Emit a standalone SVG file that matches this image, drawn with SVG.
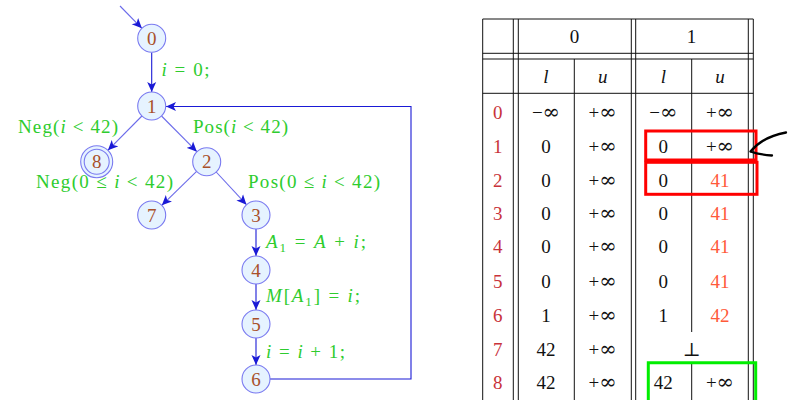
<svg xmlns="http://www.w3.org/2000/svg" width="789" height="400" viewBox="0 0 789 400">
<defs>
  <marker id="arr" markerWidth="12" markerHeight="10" refX="10" refY="5" orient="auto" markerUnits="userSpaceOnUse">
    <path d="M0,0.5 L10,5 L0,9.5 L2.5,5 Z" fill="#1a1ad6"/>
  </marker>
</defs>
<style>
  .node circle { fill: #e6f3ff; stroke: #7a7af0; stroke-width: 1.1; }
  .node text { font-family: "Liberation Serif", "DejaVu Serif", serif; font-size: 19px; fill: #a8502a; text-anchor: middle; }
  .edge { stroke: #1a1ad6; stroke-width: 1.1; fill: none; }
  .thin { stroke: #6b6bea; }
  .lbl { font-family: "Liberation Serif", "DejaVu Serif", serif; font-size: 19px; fill: #2ecc2e; }
  .it { font-style: italic; }
  .grid line { stroke: #111; stroke-width: 1; }
  .cell { font-family: "Liberation Serif", "DejaVu Serif", serif; font-size: 19px; fill: #111; text-anchor: middle; }
  .inf { font-family: "DejaVu Serif", serif; font-size: 21px; }
  .rowh { fill: #c8323a; }
  .hot { fill: #ff5a3a; }
  .mark { fill: none; stroke-width: 3; }
</style>

<!-- control flow graph: connectors -->
<g id="edges">
  <line class="edge thin" x1="120" y1="6" x2="141.9" y2="28.3" marker-end="url(#arr)"/>
  <line class="edge" x1="151.7" y1="52.5" x2="151.7" y2="92" marker-end="url(#arr)"/>
  <line class="edge thin" x1="141.9" y1="116" x2="107.9" y2="150.3" marker-end="url(#arr)"/>
  <line class="edge thin" x1="161.5" y1="116" x2="196.9" y2="151.7" marker-end="url(#arr)"/>
  <line class="edge thin" x1="196.6" y1="171.4" x2="161.8" y2="205.3" marker-end="url(#arr)"/>
  <line class="edge thin" x1="216.2" y1="172" x2="246.5" y2="204.7" marker-end="url(#arr)"/>
  <line class="edge" x1="256" y1="229" x2="256" y2="256" marker-end="url(#arr)"/>
  <line class="edge" x1="256" y1="284" x2="256" y2="310" marker-end="url(#arr)"/>
  <line class="edge" x1="256" y1="338" x2="256" y2="365" marker-end="url(#arr)"/>
  <path class="edge" d="M270,379 H411 V106.5 H166" marker-end="url(#arr)"/>
</g>

<!-- edge labels -->
<g id="labels">
  <text class="lbl" x="161.5" y="76" textLength="48" lengthAdjust="spacing"><tspan class="it">i</tspan> = 0;</text>
  <text class="lbl" x="18" y="133" textLength="100" lengthAdjust="spacing">Neg(<tspan class="it">i</tspan> &lt; 42)</text>
  <text class="lbl" x="193" y="133" textLength="95" lengthAdjust="spacing">Pos(<tspan class="it">i</tspan> &lt; 42)</text>
  <text class="lbl" x="36" y="188" textLength="137" lengthAdjust="spacing">Neg(0 ≤ <tspan class="it">i</tspan> &lt; 42)</text>
  <text class="lbl" x="248" y="188" textLength="132" lengthAdjust="spacing">Pos(0 ≤ <tspan class="it">i</tspan> &lt; 42)</text>
  <text class="lbl" x="266" y="248" textLength="100" lengthAdjust="spacing"><tspan class="it">A</tspan><tspan font-size="13" dy="4">1</tspan><tspan dy="-4"> = </tspan><tspan class="it">A</tspan> + <tspan class="it">i</tspan>;</text>
  <text class="lbl" x="266" y="302" textLength="94" lengthAdjust="spacing"><tspan class="it">M</tspan>[<tspan class="it">A</tspan><tspan font-size="13" dy="4">1</tspan><tspan dy="-4">] = </tspan><tspan class="it">i</tspan>;</text>
  <text class="lbl" x="266" y="358" textLength="79" lengthAdjust="spacing"><tspan class="it">i</tspan> = <tspan class="it">i</tspan> + 1;</text>
</g>

<!-- nodes -->
<g id="n0" class="node"><circle cx="151.7" cy="38.3" r="14"/><text x="151.7" y="45">0</text></g>
<g id="n1" class="node"><circle cx="151.7" cy="106" r="14"/><text x="151.7" y="112.7">1</text></g>
<g id="n8" class="node"><circle cx="96.7" cy="161.7" r="16"/><circle cx="96.7" cy="161.7" r="12.5"/><text x="96.7" y="168.4">8</text></g>
<g id="n2" class="node"><circle cx="206.7" cy="161.7" r="14"/><text x="206.7" y="168.4">2</text></g>
<g id="n7" class="node"><circle cx="151.7" cy="215" r="14"/><text x="151.7" y="221.7">7</text></g>
<g id="n3" class="node"><circle cx="256" cy="215" r="14"/><text x="256" y="221.7">3</text></g>
<g id="n4" class="node"><circle cx="256" cy="270" r="14"/><text x="256" y="276.7">4</text></g>
<g id="n5" class="node"><circle cx="256" cy="324" r="14"/><text x="256" y="330.7">5</text></g>
<g id="n6" class="node"><circle cx="256" cy="379" r="14"/><text x="256" y="385.7">6</text></g>

<!-- interval table: grid -->
<g id="table" class="grid">
  <line x1="482.7" y1="19" x2="753.3" y2="19"/>
  <line x1="482.7" y1="53.3" x2="753.3" y2="53.3"/>
  <line x1="482.7" y1="59" x2="753.3" y2="59"/>
  <line x1="482.7" y1="93.3" x2="753.3" y2="93.3"/>
  <line x1="482.7" y1="19" x2="482.7" y2="400"/>
  <line x1="513.3" y1="19" x2="513.3" y2="400"/>
  <line x1="518.3" y1="19" x2="518.3" y2="400"/>
  <line x1="574.3" y1="59" x2="574.3" y2="400"/>
  <line x1="631.3" y1="19" x2="631.3" y2="400"/>
  <line x1="635.7" y1="19" x2="635.7" y2="400"/>
  <line x1="691.7" y1="59" x2="691.7" y2="332"/>
  <line x1="691.7" y1="362" x2="691.7" y2="400"/>
  <line x1="748.3" y1="19" x2="748.3" y2="400"/>
  <line x1="753.3" y1="19" x2="753.3" y2="400"/>
</g>

<!-- interval table: entries -->
<g id="cells" class="cell">
  <text x="574.5" y="43.3">0</text>
  <text x="691.5" y="43.3">1</text>
  <text class="it" x="546" y="83">l</text>
  <text class="it" x="602.7" y="83">u</text>
  <text class="it" x="663.3" y="83">l</text>
  <text class="it" x="720" y="83">u</text>

  <text class="rowh" x="497.7" y="119.4">0</text>
  <text class="rowh" x="497.7" y="153.4">1</text>
  <text class="rowh" x="497.7" y="186.7">2</text>
  <text class="rowh" x="497.7" y="220">3</text>
  <text class="rowh" x="497.7" y="253.4">4</text>
  <text class="rowh" x="497.7" y="287.7">5</text>
  <text class="rowh" x="497.7" y="321.7">6</text>
  <text class="rowh" x="497.7" y="356">7</text>
  <text class="rowh" x="497.7" y="389.4">8</text>

  <text x="546" y="119.4">−<tspan class="inf">∞</tspan></text><text x="602.7" y="119.4">+<tspan class="inf">∞</tspan></text><text x="663.3" y="119.4">−<tspan class="inf">∞</tspan></text><text x="720" y="119.4">+<tspan class="inf">∞</tspan></text>
  <text x="546" y="153.4">0</text><text x="602.7" y="153.4">+<tspan class="inf">∞</tspan></text><text x="663.3" y="153.4">0</text><text x="720" y="153.4">+<tspan class="inf">∞</tspan></text>
  <text x="546" y="186.7">0</text><text x="602.7" y="186.7">+<tspan class="inf">∞</tspan></text><text x="663.3" y="186.7">0</text><text class="hot" x="720" y="186.7">41</text>
  <text x="546" y="220">0</text><text x="602.7" y="220">+<tspan class="inf">∞</tspan></text><text x="663.3" y="220">0</text><text class="hot" x="720" y="220">41</text>
  <text x="546" y="253.4">0</text><text x="602.7" y="253.4">+<tspan class="inf">∞</tspan></text><text x="663.3" y="253.4">0</text><text class="hot" x="720" y="253.4">41</text>
  <text x="546" y="287.7">0</text><text x="602.7" y="287.7">+<tspan class="inf">∞</tspan></text><text x="663.3" y="287.7">0</text><text class="hot" x="720" y="287.7">41</text>
  <text x="546" y="321.7">1</text><text x="602.7" y="321.7">+<tspan class="inf">∞</tspan></text><text x="663.3" y="321.7">1</text><text class="hot" x="720" y="321.7">42</text>
  <text x="546" y="356">42</text><text x="602.7" y="356">+<tspan class="inf">∞</tspan></text><text x="691.7" y="356">⊥</text>
  <text x="546" y="389.4">42</text><text x="602.7" y="389.4">+<tspan class="inf">∞</tspan></text><text x="663.3" y="389.4">42</text><text x="720" y="389.4">+<tspan class="inf">∞</tspan></text>
</g>

<!-- highlight boxes and hand-drawn pointer -->
<g id="highlights">
  <rect class="mark" x="645.7" y="131" width="110.3" height="29" stroke="#ff0000"/>
  <rect class="mark" x="645.7" y="162.3" width="111.3" height="32" stroke="#ff0000"/>
  <path class="mark" d="M648.3,402 V362.7 H755.7 V402" stroke="#00ee00"/>
  <path d="M786,132.5 C772,135 760,140 750.5,151.5 M750.5,151.5 C757,154 765,155 772,155.5" fill="none" stroke="#000" stroke-width="2.3" stroke-linecap="round"/>
</g>
</svg>
